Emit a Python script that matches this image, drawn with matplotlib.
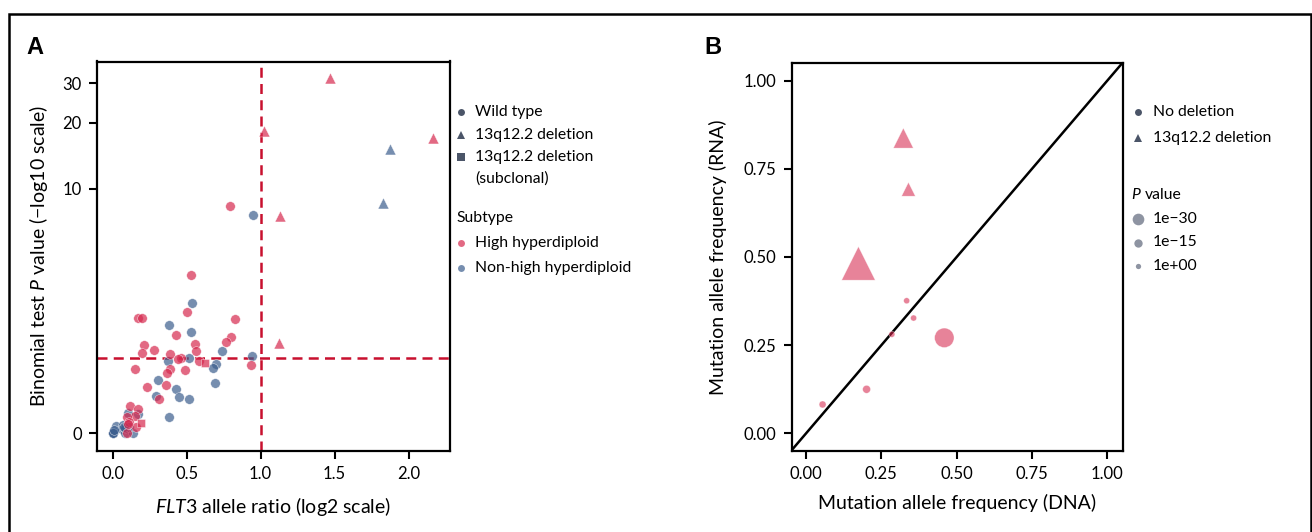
import numpy as np
import matplotlib.pyplot as plt
from matplotlib.lines import Line2D
from matplotlib.patches import Rectangle

plt.rcParams['font.family'] = ['Lato', 'DejaVu Sans']
plt.rcParams['mathtext.fontset'] = 'custom'
plt.rcParams['mathtext.rm'] = 'Lato'
plt.rcParams['mathtext.it'] = 'Lato:italic'

# ---- panel A: FLT3 allele ratio vs binomial test -log10 P ----
ratio_a = [1.47, 1.022, 2.166, 1.874, 1.824, 1.13, 1.124,
           0.624, 0.193,
           0.793, 0.529, 0.502, 0.173, 0.2, 0.829, 0.426, 0.8, 0.766, 0.211,
           0.556, 0.279, 0.563, 0.196, 0.39, 0.461, 0.443, 0.583, 0.932, 0.151,
           0.387, 0.49, 0.367, 0.358, 0.232, 0.313, 0.115, 0.173, 0.151, 0.095,
           0.112, 0.159, 0.099, 0.103,
           0.95, 0.538, 0.38, 0.529, 0.736, 0.941, 0.518, 0.372, 0.696, 0.678,
           0.306, 0.691, 0.428, 0.295, 0.45, 0.513, 0.378, 0.101, 0.173, 0.022,
           0.072, 0.09, 0.061, 0.081, 0.135, 0.0, 0.0, 0.0, 0.01, 0.112,
           0.085, 0.078]
logp_a = [31.5, 18.4, 17.0, 15.2, 8.53, 7.44, 1.42,
          0.99, 0.11,
          8.31, 3.73, 2.27, 2.09, 2.09, 2.06, 1.62, 1.56, 1.45, 1.38,
          1.39, 1.27, 1.25, 1.20, 1.18, 1.10, 1.07, 1.03, 0.95, 0.88,
          0.87, 0.86, 0.81, 0.60, 0.57, 0.40, 0.30, 0.27, 0.185, 0.177,
          0.12, 0.06, 0.006, 0.095,
          7.5, 2.58, 1.89, 1.71, 1.23, 1.13, 1.09, 1.03, 0.98, 0.90,
          0.68, 0.64, 0.55, 0.44, 0.43, 0.40, 0.17, 0.22, 0.205, 0.07,
          0.08, 0.05, 0.04, 0.006, 0.0, 0.0, 0.0, 0.0, 0.03, 0.067,
          0.05, 0.06]
subtype_a = (['HH', 'HH', 'HH', 'NH', 'NH', 'HH', 'HH', 'HH', 'HH']
             + ['HH'] * 34 + ['NH'] * 32)
deletion_a = ['del'] * 7 + ['sub'] * 2 + ['wt'] * 66

# ---- panel B: mutation allele frequency DNA vs RNA ----
maf_dna = [0.174, 0.323, 0.34, 0.459, 0.334, 0.357, 0.285, 0.201, 0.055]
maf_rna = [0.482, 0.837, 0.692, 0.271, 0.376, 0.327, 0.281, 0.125, 0.082]
deletion_b = ['del', 'del', 'del', 'no', 'no', 'no', 'no', 'no', 'no']
logp_b = [31.5, 10.5, 4.5, 9.9, 0.05, 0.05, 0.05, 0.8, 0.4]

HH = '#D6294F'
NH = '#3C5E8E'
cols = {'HH': HH, 'NH': NH}
marks_a = {'wt': 'o', 'del': '^', 'sub': 's'}
sizes_a = {'wt': 48, 'del': 62, 'sub': 40}
W, H = 1312, 532

fig = plt.figure(figsize=(13.12, 5.32), dpi=100)


def fpx(x, y):
    return x / W, 1 - y / H


def style_axes(ax):
    for s in ax.spines.values():
        s.set_linewidth(1.6)
    ax.tick_params(direction='out', length=6, width=1.5, labelsize=12, pad=5)
    ax.minorticks_off()


# panel A
axA = fig.add_axes([97 / W, 1 - 451 / H, 353 / W, 389.5 / H])
axA.set_yscale('function', functions=(np.log1p, np.expm1))
x = np.array(ratio_a)
y = np.array(logp_a)
st = np.array(subtype_a)
dl = np.array(deletion_a)
for d in ['wt', 'sub', 'del']:
    for s in ['NH', 'HH']:
        m = (st == s) & (dl == d)
        axA.scatter(x[m], y[m], s=sizes_a[d], marker=marks_a[d], c=cols[s],
                    alpha=0.7, edgecolors='white', linewidths=0.4, zorder=3)
axA.axvline(1.0, color='#C8102E', lw=1.8, ls=(0, (4, 2.5)), zorder=2)
axA.axhline(1.1, color='#C8102E', lw=1.8, ls=(0, (4, 2.5)), zorder=2)
axA.set_xlim(-0.106, 2.28)
axA.set_ylim(-0.16, 37.3)
axA.set_yticks([0, 10, 20, 30])
axA.set_yticklabels(['0', '10', '20', '30'])
axA.set_xticks([0, 0.5, 1.0, 1.5, 2.0])
axA.set_xticklabels(['0.0', '0.5', '1.0', '1.5', '2.0'])
style_axes(axA)
axA.set_xlabel(r'$\mathit{FLT3}$ allele ratio (log2 scale)', fontsize=14)
axA.set_ylabel(r'Binomial test $\mathit{P}$ value (−log10 scale)', fontsize=14)
axA.xaxis.set_label_coords(0.5, -0.112)
axA.yaxis.set_label_coords(-0.133, 0.5)

# panel B
axB = fig.add_axes([791.7 / W, 1 - 450.7 / H, 331 / W, 387.4 / H])
xb = np.array(maf_dna)
yb = np.array(maf_rna)
db = np.array(deletion_b)
sb = 18 + 18 * np.array(logp_b)
for d, mk in [('no', 'o'), ('del', '^')]:
    m = db == d
    axB.scatter(xb[m], yb[m], s=sb[m], marker=mk, c=HH, alpha=0.58,
                edgecolors='white', linewidths=0.4, zorder=3)
axB.axline((0, 0), slope=1, color='black', lw=1.8, zorder=2)
axB.set_xlim(-0.0475, 1.051)
axB.set_ylim(-0.049, 1.049)
ticks = [0, 0.25, 0.5, 0.75, 1.0]
axB.set_xticks(ticks)
axB.set_yticks(ticks)
axB.set_xticklabels(['0.00', '0.25', '0.50', '0.75', '1.00'])
axB.set_yticklabels(['0.00', '0.25', '0.50', '0.75', '1.00'])
style_axes(axB)
axB.set_xlabel('Mutation allele frequency (DNA)', fontsize=14)
axB.set_ylabel('Mutation allele frequency (RNA)', fontsize=14)
axB.xaxis.set_label_coords(0.5, -0.112)
axB.yaxis.set_label_coords(-0.195, 0.5)


def leg_marker(xp, yp, mk, ms, col, alpha=1.0):
    fx, fy = fpx(xp, yp)
    fig.add_artist(Line2D([fx], [fy], marker=mk, markersize=ms, color=col,
                          alpha=alpha, lw=0, markeredgewidth=0,
                          transform=fig.transFigure))


def leg_text(xp, yp, s, **kw):
    fx, fy = fpx(xp, yp)
    fig.text(fx, fy, s, fontsize=11.3, va='center', ha='left', **kw)


# legend A
dark = '#4B5568'
leg_marker(461, 112, 'o', 5, dark)
leg_text(475, 112, 'Wild type')
leg_marker(461, 135, '^', 6, dark)
leg_text(475, 135, '13q12.2 deletion')
leg_marker(461, 157, 's', 5.5, dark)
leg_text(475, 157, '13q12.2 deletion')
leg_text(475, 179, '(subclonal)')
leg_text(456, 218, 'Subtype')
leg_marker(461, 243, 'o', 5, HH, 0.7)
leg_text(475, 243, 'High hyperdiploid')
leg_marker(461, 268, 'o', 5, NH, 0.7)
leg_text(475, 268, 'Non-high hyperdiploid')

# legend B
gray = '#8E94A2'
leg_marker(1138, 112, 'o', 5, dark)
leg_text(1153, 112, 'No deletion')
leg_marker(1138, 138, '^', 6, dark)
leg_text(1153, 138, '13q12.2 deletion')
leg_text(1131, 195, 'P', style='italic')
leg_text(1145, 195, 'value')
leg_marker(1138, 219, 'o', 8.4, gray)
leg_text(1153, 219, '1e−30')
leg_marker(1138, 242.5, 'o', 6, gray)
leg_text(1153, 242.5, '1e−15')
leg_marker(1138, 265.5, 'o', 3.8, gray)
leg_text(1153, 265.5, '1e+00')

# panel letters
fx, fy = fpx(26, 53.5)
fig.text(fx, fy, 'A', fontsize=17, fontweight='bold', family='Liberation Sans', va='baseline')
fx, fy = fpx(704, 53.5)
fig.text(fx, fy, 'B', fontsize=17, fontweight='bold', family='Liberation Sans', va='baseline')

# outer frame
fx0, fy0 = fpx(9, 14)
fx1, _ = fpx(1310.5, 14)
fig.add_artist(Rectangle((fx0, -0.1), fx1 - fx0, fy0 + 0.1, fill=False,
                         lw=1.8, edgecolor='black', transform=fig.transFigure))

fig.savefig('out.png', dpi=100)
